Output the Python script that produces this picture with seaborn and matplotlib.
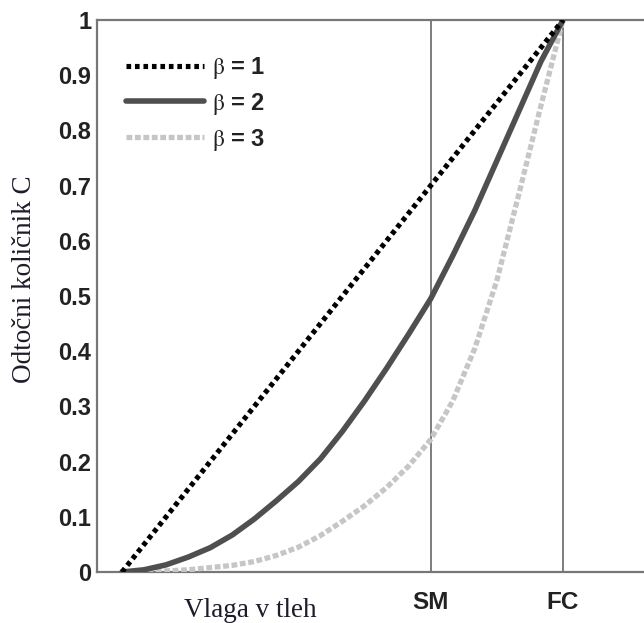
import numpy as np
import pandas as pd
from matplotlib import pyplot as plt
import seaborn as sns

# relative soil moisture: 0 = wilting point, 1 = field capacity (FC)
moisture = [0.00, 0.05, 0.10, 0.15, 0.20, 0.25, 0.30, 0.35, 0.40, 0.45, 0.50,
            0.55, 0.60, 0.65, 0.70, 0.75, 0.80, 0.85, 0.90, 0.95, 1.00]

coef_b1 = [0.00, 0.05, 0.10, 0.15, 0.20, 0.25, 0.30, 0.35, 0.40, 0.45, 0.50,
           0.55, 0.60, 0.65, 0.70, 0.75, 0.80, 0.85, 0.90, 0.95, 1.00]
coef_b2 = [0.000, 0.004, 0.013, 0.027, 0.044, 0.067, 0.096, 0.129, 0.164, 0.205, 0.255,
           0.310, 0.369, 0.431, 0.495, 0.573, 0.655, 0.745, 0.835, 0.925, 1.000]
coef_b3 = [0.000, 0.001, 0.002, 0.004, 0.008, 0.012, 0.019, 0.030, 0.045, 0.066, 0.092,
           0.120, 0.153, 0.192, 0.240, 0.310, 0.405, 0.528, 0.685, 0.845, 1.000]

sm_x = 0.70   # SM marker
fc_x = 1.00   # FC marker
y_ticks = [0, 0.1, 0.2, 0.3, 0.4, 0.5, 0.6, 0.7, 0.8, 0.9, 1]
y_tick_labels = ["0", "0.1", "0.2", "0.3", "0.4", "0.5", "0.6", "0.7", "0.8", "0.9", "1"]

sns.set_style("white")
plt.rcParams["font.family"] = ["Liberation Sans", "DejaVu Sans"]
plt.rcParams["mathtext.fontset"] = "stix"

fig = plt.figure(figsize=(6.44, 6.23), dpi=100)
ax = fig.add_axes([97 / 644, 51 / 623, 551 / 644, 552 / 623])

df = pd.DataFrame({"x": moisture, "b1": coef_b1, "b2": coef_b2, "b3": coef_b3})

ax.axvline(sm_x, color="#5a5a5a", linewidth=1.1, zorder=1)
ax.axvline(fc_x, color="#5a5a5a", linewidth=1.1, zorder=1)

sns.lineplot(data=df, x="x", y="b3", ax=ax, color="#c6c6c6", linewidth=3.8,
             linestyle=(0, (1.1, 0.5)), label=r"$\mathrm{\beta}$ = 3", zorder=3)
sns.lineplot(data=df, x="x", y="b2", ax=ax, color="#4f4f4f", linewidth=4.0,
             label=r"$\mathrm{\beta}$ = 2", zorder=4)
sns.lineplot(data=df, x="x", y="b1", ax=ax, color="black", linewidth=3.7,
             linestyle=(0, (0.9, 0.75)), label=r"$\mathrm{\beta}$ = 1", zorder=5)

ax.set_xlim(-25 / 441, 526 / 441)
ax.set_ylim(0, 1)

ax.set_yticks(y_ticks)
ax.set_yticklabels(y_tick_labels, fontsize=17, fontweight="bold", color="#222222")
ax.set_xticks([sm_x, fc_x])
ax.set_xticklabels(["SM", "FC"], fontsize=17.5, fontweight="bold", color="#222222")
ax.tick_params(axis="y", direction="in", length=4, width=1, color="#666666", pad=4)
ax.tick_params(axis="x", length=0, pad=14)

for side in ["left", "top", "bottom"]:
    ax.spines[side].set_color("#777777")
    ax.spines[side].set_linewidth(1.6)
ax.spines["right"].set_visible(False)

ax.set_xlabel("Vlaga v tleh", family="Liberation Serif", fontsize=19.5, color="#1c1c2a")
ax.xaxis.set_label_coords(0.278, -0.047)
ax.set_ylabel("Odtočni količnik C", family="Liberation Serif", fontsize=19.5,
              color="#1c1c2a")
ax.yaxis.set_label_coords(-0.108, 0.53)

handles, labels = ax.get_legend_handles_labels()
order = [2, 1, 0]
leg = ax.legend([handles[i] for i in order], [labels[i] for i in order],
                loc="upper left", bbox_to_anchor=(0.035, 0.954), frameon=False,
                prop={"family": "Liberation Sans", "weight": "bold", "size": 17},
                handlelength=3.3, handletextpad=0.35, labelspacing=0.42,
                borderaxespad=0)
for t in leg.get_texts():
    t.set_color("#222222")

plt.savefig("out.png", dpi=100)
